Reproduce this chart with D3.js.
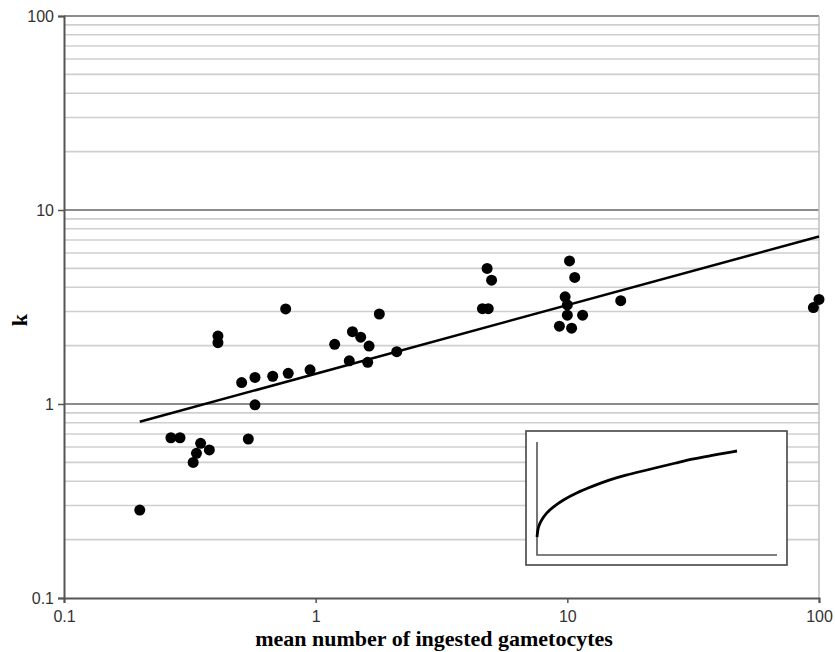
<!DOCTYPE html>
<html>
<head>
<meta charset="utf-8">
<script src="https://cdn.jsdelivr.net/npm/d3@7"></script>
<style>
  body { margin: 0; background: #fff; }
</style>
</head>
<body>
<div id="chart"></div>
<script>
// observed points: mean number of ingested gametocytes vs k
const gametocytes = [0.2, 0.266, 0.289, 0.349, 0.378, 0.336, 0.326, 0.409, 0.409, 0.54, 0.508, 0.574, 0.574,
  0.675, 0.76, 0.778, 0.95, 1.19, 1.4, 1.51, 1.63, 1.36, 1.61, 1.79, 2.1,
  4.8, 5.0, 4.6, 4.85, 10.2, 10.7, 9.8, 10.0, 10.0, 11.5, 9.3, 10.4, 16.3, 95, 100];
const kValues = [0.284, 0.67, 0.67, 0.627, 0.58, 0.557, 0.50, 2.24, 2.07, 0.66, 1.29, 1.37, 0.99,
  1.39, 3.09, 1.44, 1.50, 2.03, 2.36, 2.21, 1.99, 1.67, 1.64, 2.91, 1.86,
  5.0, 4.35, 3.1, 3.1, 5.46, 4.49, 3.57, 3.24, 2.87, 2.87, 2.52, 2.46, 3.41, 3.14, 3.46];

// fitted trend (straight on log-log axes)
const trendX = [0.2, 100];
const trendY = [0.81, 7.3];

// inset curve (linear axes, arbitrary units)
const insetX = [0, 1, 4.4, 9.4, 16, 26, 39, 56, 72, 89, 106, 122, 139, 155, 172, 200];
const insetY = [18, 28, 35, 42, 48, 55, 62, 69, 75, 80, 84, 88, 92, 96, 99, 104];

const xTicks = [0.1, 1, 10, 100];
const yTicks = [0.1, 1, 10, 100];
const xTitle = "mean number of ingested gametocytes";
const yTitle = "k";

const width = 835, height = 652;
const margin = { left: 64, right: 16, top: 16, bottom: 54 };

const svg = d3.select("#chart").append("svg")
    .attr("width", width)
    .attr("height", height);

const x = d3.scaleLog().domain([0.1, 100]).range([margin.left, width - margin.right]);
const y = d3.scaleLog().domain([0.1, 100]).range([height - margin.bottom, margin.top]);

// minor gridlines 2..9 per decade
const minor = [];
[0.1, 1, 10].forEach(d => { for (let i = 2; i <= 9; i++) minor.push(d * i); });

svg.append("g")
    .selectAll("line")
    .data(minor)
    .join("line")
    .attr("x1", x(0.1)).attr("x2", x(100))
    .attr("y1", d => y(d)).attr("y2", d => y(d))
    .attr("stroke", "#cfcfcf")
    .attr("stroke-width", 1.6);

// major gridlines
svg.append("g")
    .selectAll("line")
    .data([1, 10, 100])
    .join("line")
    .attr("x1", x(0.1)).attr("x2", x(100))
    .attr("y1", d => y(d)).attr("y2", d => y(d))
    .attr("stroke", "#666")
    .attr("stroke-width", 1.4);

// right border of plot area
svg.append("line")
    .attr("x1", x(100)).attr("x2", x(100))
    .attr("y1", y(100)).attr("y2", y(0.1))
    .attr("stroke", "#bbb")
    .attr("stroke-width", 1.4);

// axes
const xAxis = svg.append("g")
    .attr("transform", `translate(0,${y(0.1)})`)
    .call(d3.axisBottom(x).tickValues(xTicks).tickFormat(d => d).tickSize(5).tickPadding(8));
const yAxis = svg.append("g")
    .attr("transform", `translate(${x(0.1)},0)`)
    .call(d3.axisLeft(y).tickValues(yTicks).tickFormat(d => d).tickSize(6).tickPadding(4));

[xAxis, yAxis].forEach(a => {
    a.select(".domain").attr("stroke", "#555").attr("stroke-width", 2);
    a.selectAll(".tick line").attr("stroke", "#555").attr("stroke-width", 1.5);
    a.selectAll("text")
        .attr("fill", "#333")
        .style("font-family", "'Liberation Sans', Arial, sans-serif")
        .style("font-size", "16px");
});

// points
svg.append("g")
    .selectAll("circle")
    .data(gametocytes.map((d, i) => [d, kValues[i]]))
    .join("circle")
    .attr("cx", d => x(d[0]))
    .attr("cy", d => y(d[1]))
    .attr("r", 5.5)
    .attr("fill", "#000");

// trend line
svg.append("path")
    .datum(trendX.map((d, i) => [d, trendY[i]]))
    .attr("d", d3.line().x(d => x(d[0])).y(d => y(d[1])))
    .attr("fill", "none")
    .attr("stroke", "#000")
    .attr("stroke-width", 2.5);

// axis titles
svg.append("text")
    .attr("x", 434)
    .attr("y", 646)
    .attr("text-anchor", "middle")
    .style("font-family", "'Liberation Serif', 'Times New Roman', serif")
    .style("font-weight", "bold")
    .style("font-size", "22px")
    .text(xTitle);

svg.append("text")
    .attr("transform", `translate(27,320) rotate(-90)`)
    .attr("text-anchor", "middle")
    .style("font-family", "'Liberation Serif', 'Times New Roman', serif")
    .style("font-weight", "bold")
    .style("font-size", "22px")
    .text(yTitle);

// inset
const inset = svg.append("g");
inset.append("rect")
    .attr("x", 526).attr("y", 431)
    .attr("width", 261).attr("height", 134)
    .attr("fill", "#fff")
    .attr("stroke", "#444")
    .attr("stroke-width", 1.6);

const ix = d3.scaleLinear().domain([0, 200]).range([537, 737]);
const iy = d3.scaleLinear().domain([0, 113]).range([555, 442]);

inset.append("path")
    .attr("d", `M${ix(0)},${iy(113)}V${iy(0)}H777`)
    .attr("fill", "none")
    .attr("stroke", "#555")
    .attr("stroke-width", 1.6);

inset.append("path")
    .datum(insetX.map((d, i) => [d, insetY[i]]))
    .attr("d", d3.line().curve(d3.curveBasis).x(d => ix(d[0])).y(d => iy(d[1])))
    .attr("fill", "none")
    .attr("stroke", "#000")
    .attr("stroke-width", 2.8);
</script>
</body>
</html>
